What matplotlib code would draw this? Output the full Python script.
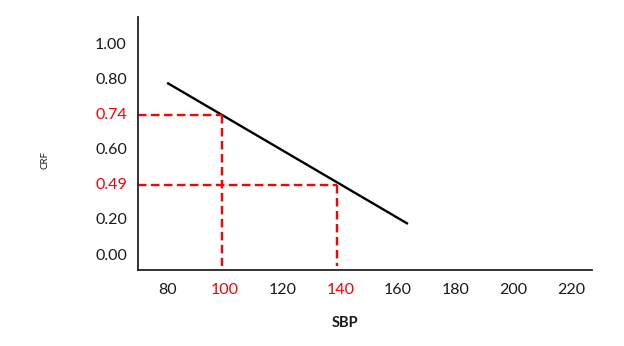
import matplotlib.pyplot as plt

plt.switch_backend('Agg')
plt.rcParams['font.family'] = ['Lato', 'DejaVu Sans']

# y axis is drawn as evenly spaced labelled levels (as in the original)
y_labels = ['0.00', '0.20', '0.49', '0.60', '0.74', '0.80', '1.00']
x_ticks = [80, 100, 120, 140, 160, 180, 200, 220]

# CRF line, y given as position on the labelled scale
line_sbp = [80, 163.5]
line_crf = [4.89, 0.86]

# reference readings (dashed red)
ref_sbp = [100, 140]
ref_crf = ['0.74', '0.49']

red = '#ff0000'

fig = plt.figure(figsize=(6.24, 3.46), dpi=100)
ax = fig.add_axes([138 / 624, 1 - 270 / 346, (592 - 138) / 624, (270 - 17) / 346])

ax.plot(line_sbp, line_crf, color='black', lw=1.7, solid_capstyle='butt')

for s, c in zip(ref_sbp, ref_crf):
    yp = y_labels.index(c)
    ax.plot([69.9, s - 1], [yp - 0.04, yp - 0.04], color=red, lw=1.7, ls=(0, (3.6, 1.9)))
    ax.plot([s - 1, s - 1], [yp - 0.04, -0.35], color=red, lw=1.7, ls=(0, (3.6, 1.9)))

ax.set_xlim(69.9, 227.3)
ax.set_ylim(-0.457, 6.77)

ax.set_yticks(range(len(y_labels)))
ax.set_yticklabels(y_labels)
ax.set_xticks(x_ticks)
ax.set_xticklabels([str(v) for v in x_ticks])
ax.tick_params(length=0, labelsize=11.5, colors='#1a1a1a')
ax.tick_params(axis='y', pad=8)
ax.tick_params(axis='x', pad=9)

for lbl in ax.get_yticklabels():
    if lbl.get_text() in ref_crf:
        lbl.set_color(red)
for lbl in ax.get_xticklabels():
    if int(lbl.get_text()) in ref_sbp:
        lbl.set_color(red)

for side in ['top', 'right']:
    ax.spines[side].set_visible(False)
for side in ['left', 'bottom']:
    ax.spines[side].set_color('#222222')
    ax.spines[side].set_linewidth(1.3)

fig.text(45 / 624, 1 - 160 / 346, 'CRF', rotation=90, fontsize=7,
         ha='center', va='center', color='#1a1a1a')
fig.text(345 / 624, 1 - 323 / 346, 'SBP', fontsize=10.5, fontweight='bold',
         ha='center', va='center', color='#1a1a1a')

plt.savefig('out.png')
